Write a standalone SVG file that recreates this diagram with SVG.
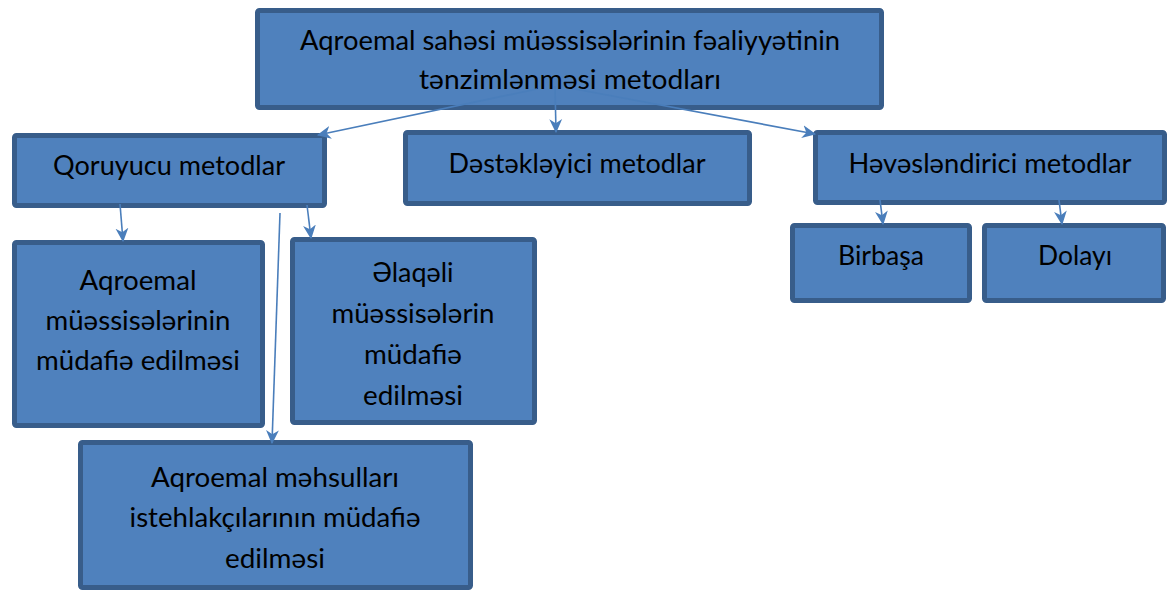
<svg xmlns="http://www.w3.org/2000/svg" width="1168" height="591" viewBox="0 0 1168 591">
<style>
.box{fill:#4F81BD;stroke:#385D8A;stroke-width:5}
.t{font-family:Lato,"Noto Sans","Open Sans",sans-serif;font-size:27px;fill:#000;text-anchor:middle}
.c{fill:none;stroke:#4A7EBB;stroke-width:1.6;marker-end:url(#ah)}
</style>
<defs>
<marker id="ah" markerUnits="userSpaceOnUse" markerWidth="14" markerHeight="14" viewBox="0 0 12 12" refX="11" refY="6" orient="auto">
<path d="M0,0.5 L12,6 L0,11.5 L3.5,6 Z" fill="#4A7EBB"/>
</marker>
</defs>
<rect width="1168" height="591" fill="#fff"/>
<g id="n-top">
<rect class="box" x="257.5" y="10.5" width="624" height="97" rx="2"/>
<text class="t" x="570" y="50" textLength="540" lengthAdjust="spacingAndGlyphs">Aqroemal sahəsi müəssisələrinin fəaliyyətinin</text>
<text class="t" x="570" y="89" textLength="302" lengthAdjust="spacingAndGlyphs">tənzimlənməsi metodları</text>
</g>
<g id="n-qoruyucu">
<rect class="box" x="14.5" y="135.5" width="310" height="70" rx="2"/>
<text class="t" x="169" y="175" textLength="232" lengthAdjust="spacingAndGlyphs">Qoruyucu metodlar</text>
</g>
<g id="n-destekleyici">
<rect class="box" x="405.5" y="132.5" width="344" height="71" rx="2"/>
<text class="t" x="577" y="173" textLength="257" lengthAdjust="spacingAndGlyphs">Dəstəkləyici metodlar</text>
</g>
<g id="n-hevesl">
<rect class="box" x="815.5" y="132.5" width="349" height="70" rx="2"/>
<text class="t" x="990" y="173" textLength="283" lengthAdjust="spacingAndGlyphs">Həvəsləndirici metodlar</text>
</g>
<g id="n-birbasa">
<rect class="box" x="792.5" y="225.5" width="177" height="75" rx="2"/>
<text class="t" x="881" y="265" textLength="86" lengthAdjust="spacingAndGlyphs">Birbaşa</text>
</g>
<g id="n-dolayi">
<rect class="box" x="984.5" y="225.5" width="179" height="75" rx="2"/>
<text class="t" x="1075" y="265" textLength="74" lengthAdjust="spacingAndGlyphs">Dolayı</text>
</g>
<g id="n-aqroemal-muess">
<rect class="box" x="14.5" y="242.5" width="248" height="183" rx="2"/>
<text class="t" x="138" y="290" textLength="117" lengthAdjust="spacingAndGlyphs">Aqroemal</text>
<text class="t" x="138" y="330" textLength="185" lengthAdjust="spacingAndGlyphs">müəssisələrinin</text>
<text class="t" x="138" y="370" textLength="204" lengthAdjust="spacingAndGlyphs">müdafiə edilməsi</text>
</g>
<g id="n-elaqeli">
<rect class="box" x="292.5" y="239.5" width="242" height="183" rx="2"/>
<text class="t" x="413" y="282" textLength="81" lengthAdjust="spacingAndGlyphs">Əlaqəli</text>
<text class="t" x="413" y="323" textLength="163" lengthAdjust="spacingAndGlyphs">müəssisələrin</text>
<text class="t" x="413" y="364" textLength="98" lengthAdjust="spacingAndGlyphs">müdafiə</text>
<text class="t" x="413" y="405" textLength="100" lengthAdjust="spacingAndGlyphs">edilməsi</text>
</g>
<g id="n-aqroemal-mehsul">
<rect class="box" x="80.5" y="442.5" width="390" height="145" rx="2"/>
<text class="t" x="275" y="487" textLength="248" lengthAdjust="spacingAndGlyphs">Aqroemal məhsulları</text>
<text class="t" x="275" y="527" textLength="291" lengthAdjust="spacingAndGlyphs">istehlakçılarının müdafiə</text>
<text class="t" x="275" y="568" textLength="100" lengthAdjust="spacingAndGlyphs">edilməsi</text>
</g>
<g id="connectors">
<line class="c" x1="537" y1="89" x2="318" y2="135"/>
<line class="c" x1="555" y1="86" x2="556" y2="132"/>
<line class="c" x1="575" y1="89" x2="815" y2="134"/>
<line class="c" x1="120" y1="204" x2="123" y2="241"/>
<line class="c" x1="307" y1="205" x2="311" y2="238"/>
<line class="c" x1="280" y1="213" x2="272" y2="443"/>
<line class="c" x1="880" y1="200" x2="883" y2="224"/>
<line class="c" x1="1059" y1="200" x2="1062" y2="224"/>
</g>
</svg>
